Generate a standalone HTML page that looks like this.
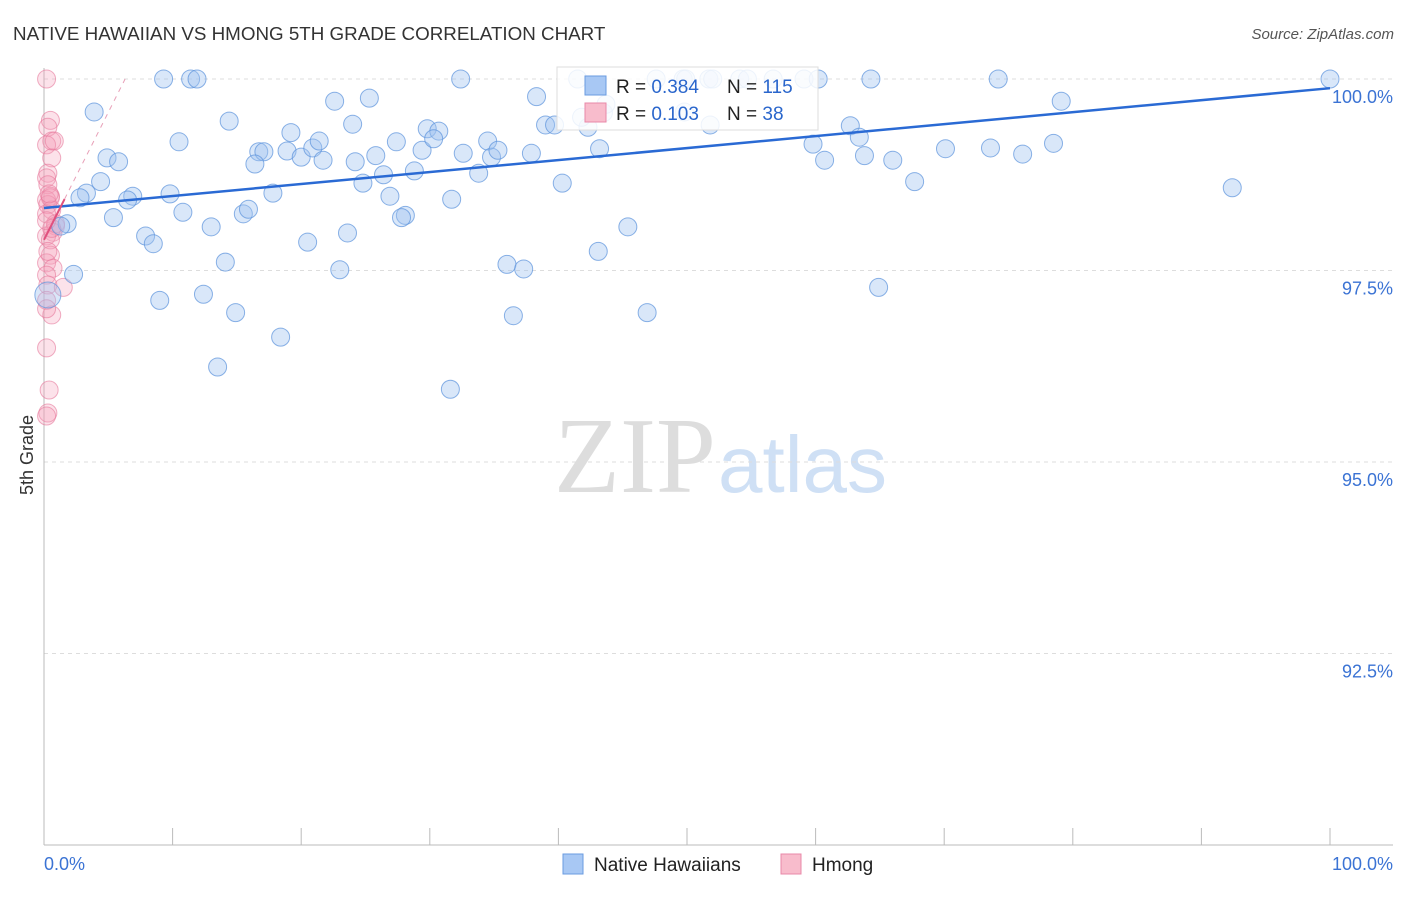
<!DOCTYPE html>
<html><head><meta charset="utf-8"><style>
body{margin:0;background:#fff;font-family:"Liberation Sans",sans-serif}
</style></head><body>
<svg id="chart" width="1406" height="892" xmlns="http://www.w3.org/2000/svg">
<text x="13" y="40" font-size="18.8" fill="#333">NATIVE HAWAIIAN VS HMONG 5TH GRADE CORRELATION CHART</text>
<text x="1394" y="39" font-size="15" fill="#555" text-anchor="end" font-style="italic">Source: ZipAtlas.com</text>
<text x="0" y="0" font-size="18" fill="#333" text-anchor="middle" transform="translate(33,455) rotate(-90)">5th Grade</text>
<text x="716" y="492" font-size="108" fill="#ddd" text-anchor="end" font-family="Liberation Serif">ZIP</text>
<text x="718" y="492" font-size="80" fill="#cfe0f5">atlas</text>
<g id="grid"></g><g id="axes"></g><g id="pts"></g><g id="lines"></g>
<g>
<rect x="557" y="67" width="261" height="63" fill="#fff" fill-opacity="0.85" stroke="#ddd"/>
<rect x="585" y="76" width="21" height="19" fill="#a8c8f4" stroke="#6a9be0"/>
<rect x="585" y="103" width="21" height="19" fill="#f8bccc" stroke="#e888a8"/>
<text x="616" y="93" font-size="19" fill="#222">R = <tspan fill="#2a66cc">0.384</tspan></text>
<text x="727" y="93" font-size="19" fill="#222">N = <tspan fill="#2a66cc">115</tspan></text>
<text x="616" y="120" font-size="19" fill="#222">R = <tspan fill="#2a66cc"> 0.103</tspan></text>
<text x="727" y="120" font-size="19" fill="#222">N = <tspan fill="#2a66cc"> 38</tspan></text>
</g>
<g>
<rect x="563" y="854" width="20" height="20" fill="#a8c8f4" stroke="#6a9be0"/>
<text x="594" y="871" font-size="19" fill="#222">Native Hawaiians</text>
<rect x="781" y="854" width="20" height="20" fill="#f8bccc" stroke="#e888a8"/>
<text x="812" y="871" font-size="19" fill="#222">Hmong</text>
</g>
</svg>
<script>
const yTicks=[100,97.5,95,92.5];
const yTickLabels=["100.0%","97.5%","95.0%","92.5%"];
const xEndLabels=["0.0%","100.0%"];
const blueX=[3.9,9.3,11.4,11.9,10.5,4.9,5.8,4.4,3.3,2.8,6.9,6.5,9.8,5.4,1.8,1.3,7.9,8.5,10.8,13.0,2.3,9.0,12.4,14.1,14.9,13.5,18.4,14.4,16.7,17.1,16.4,19.2,18.9,20.0,20.9,21.4,21.7,17.8,15.5,15.9,20.5,23.0,23.6,22.6,24.0,25.3,24.2,25.8,24.8,26.4,27.4,26.9,28.1,27.8,28.8,29.4,29.8,30.7,30.3,31.7,32.4,32.6,33.8,34.5,34.8,35.3,37.9,38.3,39.0,39.7,40.3,36.0,37.3,36.5,31.6,41.5,42.3,43.2,43.5,43.1,45.4,46.9,47.6,49.7,49.9,51.7,52.0,54.1,54.7,56.7,59.1,60.2,64.3,74.2,100,41.8,43.7,49.8,51.8,59.8,60.7,62.7,63.4,63.8,66.0,64.9,67.7,70.1,73.6,76.1,78.5,79.1,92.4,0.3];
const blueY=[99.57,100,100,100,99.18,98.97,98.92,98.66,98.51,98.45,98.47,98.42,98.50,98.19,98.11,98.08,97.95,97.85,98.26,98.07,97.45,97.11,97.19,97.61,96.95,96.24,96.63,99.45,99.05,99.05,98.89,99.30,99.06,98.98,99.10,99.19,98.94,98.51,98.24,98.30,97.87,97.51,97.99,99.71,99.41,99.75,98.92,99.00,98.64,98.75,99.18,98.47,98.22,98.19,98.80,99.07,99.35,99.32,99.22,98.43,100,99.03,98.77,99.19,98.98,99.07,99.03,99.77,99.40,99.40,98.64,97.58,97.52,96.91,95.95,100,99.37,99.09,99.56,97.75,98.07,96.95,100,100,100,100,100,100,100,100,100,100,100,100,100,99.50,99.67,99.57,99.40,99.15,98.94,99.39,99.24,99.00,98.94,97.28,98.66,99.09,99.10,99.02,99.16,99.71,98.58,97.18];
const pinkX=[0.2,0.5,0.3,0.6,0.2,0.6,0.3,0.2,0.3,0.5,0.2,0.3,0.6,0.2,0.9,0.7,0.2,0.5,0.5,0.2,0.7,0.2,0.3,1.5,0.2,0.6,0.2,0.4,0.3,0.2,0.9,0.5,0.3,0.4,0.8,0.2,0.6,0.2];
const pinkY=[100,99.46,99.37,99.19,99.14,98.97,98.77,98.71,98.62,98.47,98.42,98.36,98.29,98.24,98.08,98.00,97.95,97.90,97.70,97.60,97.53,97.44,97.31,97.28,97.11,96.92,96.49,95.94,95.64,95.60,98.11,98.45,97.75,98.50,99.19,97.00,98.05,98.15];
const blueTrend=[98.316,99.88];
const pinkTrend=[97.9,0.333];
const NS="http://www.w3.org/2000/svg";
const sx=v=>44+v*12.86, sy=v=>79+(100-v)*76.6;
function mk(p,t,a){const e=document.createElementNS(NS,t);for(const k in a)e.setAttribute(k,a[k]);document.getElementById(p).appendChild(e);return e;}
yTicks.forEach((t,i)=>{
 let l=mk('grid','line',{x1:44,x2:1393,y1:sy(t),y2:sy(t),stroke:'#ddd','stroke-dasharray':'4,4'});
 
 
 let tx=mk('grid','text',{x:1393,y:sy(t)+24,'font-size':18,fill:'#3b73d4','text-anchor':'end'});tx.textContent=yTickLabels[i];
 
 
});
let ax=mk('axes','line',{x1:44,x2:1393,y1:845,y2:845,stroke:'#bbb'});


let ay=mk('axes','line',{x1:44,x2:44,y1:68,y2:845,stroke:'#bbb'});


for(let i=0;i<=10;i++){let t=mk('axes','line',{x1:sx(i*10),x2:sx(i*10),y1:828,y2:845,stroke:'#bbb'});
 
 }
[[0,'start'],[100,'end']].forEach((d,i)=>{let t=mk('axes','text',{x:i?1393:44,y:870,'font-size':18,fill:'#3b73d4','text-anchor':d[1]});t.textContent=xEndLabels[i];
 
 });
pinkX.forEach((x,i)=>{let c=mk('pts','circle',{cx:sx(x),cy:sy(pinkY[i]),r:9,fill:'rgba(245,160,185,0.3)',stroke:'rgba(230,120,155,0.6)'});
 
 });
blueX.forEach((x,i)=>{let c=mk('pts','circle',{cx:sx(x),cy:sy(blueY[i]),r:i==blueX.length-1?13:9,fill:'rgba(160,196,240,0.4)',stroke:'rgba(90,145,220,0.7)'});
 
 });
let bl=mk('lines','line',{x1:sx(0),y1:sy(blueTrend[0]),x2:sx(100),y2:sy(blueTrend[1]),stroke:'#2a6ad4','stroke-width':2.5});


let xe=(100-pinkTrend[0])/pinkTrend[1];
let pd=mk('lines','line',{x1:sx(1.6),y1:sy(pinkTrend[0]+1.6*pinkTrend[1]),x2:sx(xe),y2:sy(100),stroke:'#e8a0b8','stroke-width':1,'stroke-dasharray':'5,5'});


let pl=mk('lines','line',{x1:sx(0),y1:sy(pinkTrend[0]),x2:sx(1.6),y2:sy(pinkTrend[0]+1.6*pinkTrend[1]),stroke:'#e0507e','stroke-width':2});


</script>
</body></html>
